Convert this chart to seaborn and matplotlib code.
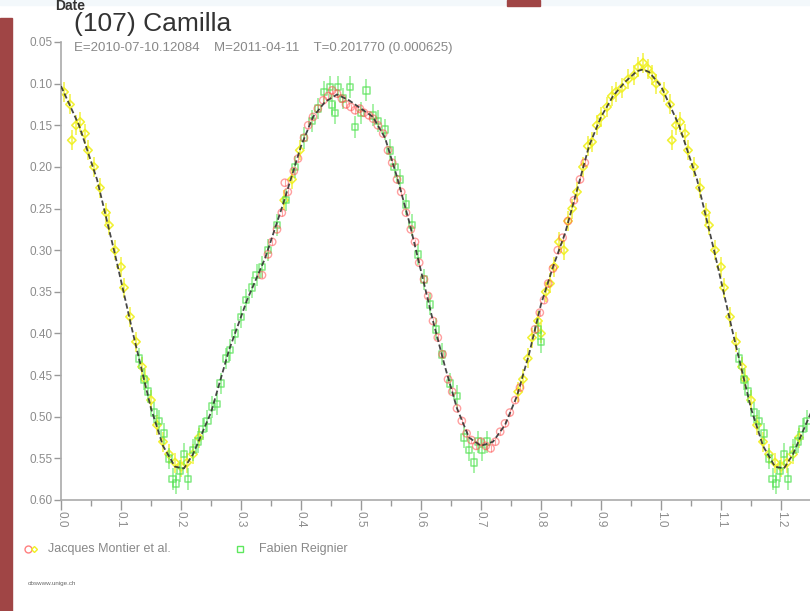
import numpy as np
import pandas as pd
import matplotlib
matplotlib.use("Agg")
import matplotlib.pyplot as plt
import seaborn as sns
from matplotlib.patches import Rectangle
from matplotlib.lines import Line2D

# ---- data (phase, reduced magnitude) ----
title = "(107) Camilla"
subtitle = "E=2010-07-10.12084    M=2011-04-11    T=0.201770 (0.000625)"
observers = ["Jacques Montier et al.", "Fabien Reignier"]

fit_phase = [0.00, 0.03, 0.06, 0.09, 0.12, 0.15, 0.17, 0.19, 0.205, 0.22, 0.25, 0.28, 0.31,
             0.34, 0.37, 0.40, 0.42, 0.44, 0.46, 0.48, 0.50, 0.52, 0.54, 0.56, 0.58, 0.60,
             0.62, 0.64, 0.66, 0.68, 0.70, 0.72, 0.74, 0.76, 0.78, 0.80, 0.82, 0.84, 0.86,
             0.88, 0.90, 0.92, 0.94, 0.96, 0.97, 0.98]
fit_mag = [0.103, 0.150, 0.215, 0.305, 0.400, 0.490, 0.535, 0.560, 0.562, 0.545, 0.495, 0.420,
           0.360, 0.310, 0.245, 0.175, 0.140, 0.122, 0.113, 0.120, 0.130, 0.140, 0.165, 0.212,
           0.265, 0.325, 0.385, 0.440, 0.490, 0.525, 0.535, 0.530, 0.510, 0.475, 0.425, 0.365,
           0.320, 0.280, 0.228, 0.175, 0.140, 0.115, 0.098, 0.085, 0.083, 0.086]

yellow_phase = [0.005, 0.015, 0.018, 0.025, 0.032, 0.040, 0.045, 0.055, 0.065, 0.075, 0.080,
                0.090, 0.100, 0.105, 0.115, 0.125, 0.135, 0.140, 0.150, 0.160, 0.170, 0.180,
                0.190, 0.200, 0.210, 0.220, 0.230, 0.372, 0.385, 0.398, 0.762, 0.770, 0.778,
                0.785, 0.795, 0.800, 0.808, 0.815, 0.822, 0.830, 0.838, 0.845, 0.852, 0.860,
                0.870, 0.878, 0.885, 0.893, 0.900, 0.910, 0.918, 0.925, 0.935, 0.945, 0.955,
                0.962, 0.970, 0.978, 0.985, 0.992]
yellow_mag = [0.110, 0.125, 0.168, 0.150, 0.146, 0.160, 0.180, 0.200, 0.225, 0.255, 0.270,
              0.300, 0.320, 0.345, 0.380, 0.410, 0.440, 0.455, 0.480, 0.510, 0.530, 0.545,
              0.555, 0.560, 0.555, 0.545, 0.525, 0.240, 0.215, 0.180, 0.470, 0.455, 0.430,
              0.405, 0.385, 0.400, 0.350, 0.340, 0.320, 0.290, 0.300, 0.265, 0.250, 0.230,
              0.200, 0.175, 0.170, 0.150, 0.140, 0.128, 0.115, 0.110, 0.105, 0.095, 0.090,
              0.080, 0.075, 0.082, 0.090, 0.100]

red_phase = [0.335, 0.345, 0.352, 0.360, 0.368, 0.373, 0.378, 0.388, 0.395, 0.405, 0.412,
             0.420, 0.428, 0.437, 0.445, 0.452, 0.460, 0.468, 0.475, 0.483, 0.490, 0.498,
             0.505, 0.513, 0.520, 0.528, 0.537, 0.545, 0.552, 0.560, 0.567, 0.575, 0.583,
             0.590, 0.597, 0.605, 0.612, 0.620, 0.628, 0.636, 0.645, 0.652, 0.660, 0.668,
             0.676, 0.684, 0.692, 0.700, 0.708, 0.716, 0.724, 0.732, 0.740, 0.748, 0.757,
             0.765, 0.790, 0.798, 0.805, 0.812, 0.820, 0.828, 0.836, 0.845, 0.855, 0.865,
             0.873]
red_mag = [0.330, 0.305, 0.290, 0.275, 0.255, 0.219, 0.230, 0.205, 0.190, 0.165, 0.150,
           0.140, 0.130, 0.120, 0.115, 0.108, 0.112, 0.118, 0.125, 0.128, 0.132, 0.130,
           0.135, 0.138, 0.142, 0.150, 0.160, 0.180, 0.195, 0.215, 0.230, 0.255, 0.275,
           0.290, 0.315, 0.335, 0.355, 0.385, 0.405, 0.425, 0.455, 0.470, 0.490, 0.505,
           0.520, 0.528, 0.535, 0.530, 0.535, 0.538, 0.530, 0.518, 0.508, 0.495, 0.480,
           0.465, 0.395, 0.375, 0.360, 0.340, 0.322, 0.300, 0.285, 0.265, 0.240, 0.215,
           0.195]

green_phase = [0.130, 0.138, 0.145, 0.155, 0.163, 0.172, 0.180, 0.186, 0.192, 0.198, 0.205,
               0.212, 0.220, 0.228, 0.236, 0.244, 0.252, 0.260, 0.266, 0.275, 0.282, 0.290,
               0.300, 0.308, 0.318, 0.326, 0.335, 0.345, 0.360, 0.375, 0.390, 0.405, 0.418,
               0.428, 0.438, 0.448, 0.452, 0.457, 0.462, 0.470, 0.482, 0.490, 0.500, 0.509,
               0.520, 0.528, 0.540, 0.548, 0.556, 0.565, 0.575, 0.585, 0.595, 0.605, 0.615,
               0.625, 0.635, 0.648, 0.660, 0.672, 0.680, 0.688, 0.695, 0.702, 0.710, 0.795,
               0.800]
green_mag = [0.430, 0.455, 0.470, 0.495, 0.505, 0.520, 0.550, 0.575, 0.580, 0.565, 0.545,
             0.575, 0.540, 0.530, 0.515, 0.505, 0.488, 0.485, 0.460, 0.430, 0.420, 0.400,
             0.380, 0.360, 0.345, 0.330, 0.320, 0.300, 0.270, 0.240, 0.200, 0.165, 0.145,
             0.130, 0.110, 0.104, 0.125, 0.135, 0.104, 0.118, 0.104, 0.152, 0.135, 0.108,
             0.138, 0.145, 0.155, 0.180, 0.200, 0.215, 0.245, 0.270, 0.305, 0.335, 0.365,
             0.395, 0.425, 0.460, 0.475, 0.525, 0.540, 0.555, 0.530, 0.540, 0.530, 0.395,
             0.410]

yellow_err = 0.012
green_err = 0.013
red_err = 0.004


def wrap(phase, mag, upto=1.25):
    # the light curve is shown over 1.25 cycles: repeat the start after phase 1
    ph = np.asarray(phase)
    mg = np.asarray(mag)
    keep = ph + 1 <= upto
    return pd.DataFrame({"phase": np.r_[ph, ph[keep] + 1], "mag": np.r_[mg, mg[keep]]})


fit = wrap(fit_phase + [1.0], fit_mag + [fit_mag[0]], upto=1.27)
fit = fit.drop_duplicates("phase")
yel = wrap(yellow_phase, yellow_mag)
red = wrap(red_phase, red_mag)
grn = wrap(green_phase, green_mag)

# ---- figure ----
sns.set_theme(style="white")
plt.rcParams["font.family"] = ["Liberation Sans", "DejaVu Sans"]

fig = plt.figure(figsize=(8.10, 6.11), dpi=100)
W, H = 810, 611
ax = fig.add_axes([61 / W, 1 - 500 / H, 1 - 61 / W, (500 - 42) / H])

ax.errorbar(yel["phase"], yel["mag"], yerr=yellow_err, fmt="none", ecolor="#f2f230",
            elinewidth=1.2, alpha=0.85, zorder=2)
sns.scatterplot(data=yel, x="phase", y="mag", ax=ax, marker="D", s=18,
                fc="none", ec="#f0f020", linewidth=1.2, alpha=0.9, zorder=2, legend=False)

ax.errorbar(grn["phase"], grn["mag"], yerr=green_err, fmt="none", ecolor="#5ee85e",
            elinewidth=1.1, alpha=0.7, zorder=3)
sns.scatterplot(data=grn, x="phase", y="mag", ax=ax, marker="s", s=22,
                fc="none", ec="#4fe04f", linewidth=1.1, alpha=0.7, zorder=3, legend=False)

ax.errorbar(red["phase"], red["mag"], yerr=red_err, fmt="none", ecolor="#ff6060",
            elinewidth=0.8, alpha=0.55, zorder=4)
sns.scatterplot(data=red, x="phase", y="mag", ax=ax, marker="o", s=28,
                fc="none", ec="#ff5050", linewidth=1.0, alpha=0.55, zorder=4, legend=False)

sns.lineplot(data=fit, x="phase", y="mag", ax=ax, color="#333333", linewidth=1.3,
             linestyle=(0, (3, 1.5)), alpha=0.9, zorder=5, sort=True)

ax.set_xlim(0, (W - 61) / 600)
ax.set_ylim(0.60, 0.05)
ax.set_xlabel("")
ax.set_ylabel("")

xt = np.round(np.arange(0, 1.21, 0.1), 1)
ax.set_xticks(xt)
ax.set_xticklabels([f"{v:.1f}" for v in xt], rotation=270, fontsize=8.5, color="#8c8c8c")
ax.set_xticks(np.arange(0.05, 1.25, 0.1), minor=True)
yt = np.round(np.arange(0.05, 0.601, 0.05), 2)
ax.set_yticks(yt)
ax.set_yticklabels([f"{v:.2f}" for v in yt], fontsize=8.5, color="#8c8c8c")

ax.tick_params(axis="x", which="major", direction="out", length=7, width=1, color="#999999",
               pad=1, bottom=True)
ax.tick_params(axis="x", which="minor", direction="out", length=4, width=1, color="#999999",
               bottom=True)
ax.tick_params(axis="y", which="major", direction="out", length=5, width=1, color="#999999",
               pad=1, left=True)
for s in ["top", "right"]:
    ax.spines[s].set_visible(False)
for s in ["left", "bottom"]:
    ax.spines[s].set_color("#aaaaaa")
    ax.spines[s].set_linewidth(1.2)
ax.patch.set_alpha(0)

# ---- page decorations (screenshot surroundings) and titles ----
deco = fig.add_axes([0, 0, 1, 1], zorder=-1)
deco.set_xlim(0, W)
deco.set_ylim(H, 0)
deco.axis("off")
deco.add_patch(Rectangle((0, 18), 12, H - 18, color="#a04545"))
deco.add_patch(Rectangle((0, 0), W, 5, color="#f3f8fb"))
deco.add_patch(Rectangle((507, 0), 33, 6, color="#a04545"))
deco.text(55, 6, "Date", fontsize=10, color="#333333", va="center", fontweight="bold")

fig.text(74 / W, 1 - 31 / H, title, fontsize=19, color="#333333", va="baseline")
fig.text(74 / W, 1 - 48 / H, subtitle, fontsize=9.5, color="#888888", va="center")

leg = fig.add_axes([0, 0, 1, 1], zorder=6)
leg.set_xlim(0, W)
leg.set_ylim(H, 0)
leg.axis("off")
leg.add_line(Line2D([28], [549], marker="o", ms=5, mfc="none", mec="#ff6060", mew=1, alpha=0.8))
leg.add_line(Line2D([34], [549], marker="D", ms=3, mfc="none", mec="#f0f020", mew=1))
leg.add_line(Line2D([240], [549], marker="s", ms=4.5, mfc="none", mec="#5ee85e", mew=1))
leg.text(48, 549, observers[0], fontsize=9, color="#888888", va="center")
leg.text(259, 549, observers[1], fontsize=9, color="#888888", va="center")
leg.text(28, 583, "obswww.unige.ch", fontsize=4.5, color="#666666", va="center")

fig.savefig("out.png", dpi=100, facecolor="white")
